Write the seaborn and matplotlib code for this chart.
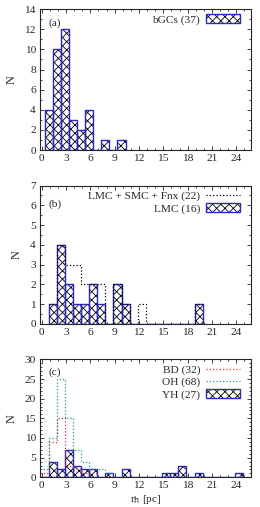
import numpy as np
import pandas as pd
import matplotlib
matplotlib.use('Agg')
import matplotlib.pyplot as plt
import seaborn as sns
from matplotlib.patches import Patch
from matplotlib.lines import Line2D
from matplotlib.ticker import MultipleLocator

# histogram counts, unit-width bins
a_start = 0.35
bgc = [4, 10, 12, 3, 2, 4, 0, 1, 0, 1]

b_start = 0.85
lmc = [1, 4, 2, 1, 1, 2, 1, 0, 2, 1, 0, 0, 0, 0, 0, 0, 0, 0, 1]
lmc_all = [1, 4, 3, 3, 2, 2, 2, 0, 2, 1, 0, 1, 0, 0, 0, 0, 0, 0, 1]

c_start = -0.15
bd = [1, 9, 15, 3, 2, 1, 1]
oh = [2, 10, 25, 15, 7, 4, 2, 2, 1]
yh = [0, 4, 2, 7, 3, 2, 2, 0, 1, 0, 2, 0, 0, 0, 0, 1, 1, 3, 0, 1, 0, 0, 0, 0, 1]

sns.set_style('ticks')
plt.rcParams['font.family'] = ['Liberation Serif', 'DejaVu Serif']
plt.rcParams['hatch.linewidth'] = 0.6
plt.rcParams['xtick.direction'] = 'in'
plt.rcParams['ytick.direction'] = 'in'
fs = 8.2
blue = '#2828c8'
leg_kw = dict(loc='upper right', bbox_to_anchor=(0.972, 1.0), frameon=False,
              markerfirst=False, fontsize=fs, handlelength=3.0, handleheight=0.8,
              handletextpad=0.5, borderaxespad=0.15, borderpad=0.3, labelspacing=0.15)


def bins_of(start, counts):
    edges = [start + i for i in range(len(counts) + 1)]
    df = pd.DataFrame({'r': [e + 0.5 for e in edges[:-1]], 'n': [float(c) for c in counts]})
    return df, edges


def hatched(ax, start, counts):
    df, e = bins_of(start, counts)
    sns.histplot(data=df, x='r', weights='n', bins=e, ax=ax, element='bars', fill=True,
                 facecolor='white', edgecolor='black', linewidth=0, hatch='xxxx', alpha=1)
    sns.histplot(data=df, x='r', weights='n', bins=e, ax=ax, element='bars', fill=False,
                 color=blue, edgecolor=blue, linewidth=1.0)


def dotted(ax, start, counts, color):
    df, e = bins_of(start, counts)
    sns.histplot(data=df, x='r', weights='n', bins=e, ax=ax, element='step', fill=False,
                 color=color, linestyle=':', linewidth=0.9)


def bar_handle():
    return (Patch(facecolor='white', edgecolor='black', hatch='xxxx', linewidth=0),
            Patch(facecolor='none', edgecolor=blue, linewidth=1.0))


fig = plt.figure(figsize=(2.6, 5.07), dpi=100)
ax_a = fig.add_axes([0.154, 0.704, 0.811, 0.278])
ax_b = fig.add_axes([0.154, 0.361, 0.811, 0.273])
ax_c = fig.add_axes([0.154, 0.0586, 0.811, 0.2325])

# (a)
hatched(ax_a, a_start, bgc)
ax_a.set_ylim(0, 14)
ax_a.yaxis.set_major_locator(MultipleLocator(2))
ax_a.yaxis.set_minor_locator(MultipleLocator(1))
ax_a.legend([bar_handle()], ['bGCs (37)'], **leg_kw)
ax_a.text(0.04, 0.935, '(a)', transform=ax_a.transAxes, fontsize=fs, va='top')

# (b)
dotted(ax_b, b_start, lmc_all, 'black')
hatched(ax_b, b_start, lmc)
ax_b.set_ylim(0, 7)
ax_b.yaxis.set_major_locator(MultipleLocator(1))
ax_b.yaxis.set_minor_locator(MultipleLocator(0.5))
ax_b.legend([Line2D([], [], color='black', ls=':', lw=0.9), bar_handle()],
            ['LMC + SMC + Fnx (22)', 'LMC (16)'], **leg_kw)
ax_b.text(0.04, 0.9, '(b)', transform=ax_b.transAxes, fontsize=fs, va='top')

# (c)
dotted(ax_c, c_start, bd, '#e03030')
dotted(ax_c, c_start, oh, '#20a070')
hatched(ax_c, c_start, yh)
ax_c.set_ylim(0, 30)
ax_c.yaxis.set_major_locator(MultipleLocator(5))
ax_c.yaxis.set_minor_locator(MultipleLocator(1))
ax_c.legend([Line2D([], [], color='#e03030', ls=':', lw=0.9),
             Line2D([], [], color='#20a070', ls=':', lw=0.9), bar_handle()],
            ['BD (32)', 'OH (68)', 'YH (27)'], **leg_kw)
ax_c.text(0.04, 0.93, '(c)', transform=ax_c.transAxes, fontsize=fs, va='top')

for ax in (ax_a, ax_b, ax_c):
    ax.set_xlim(-0.2, 25.8)
    ax.set_xticks(np.arange(0, 25, 3))
    ax.xaxis.set_minor_locator(MultipleLocator(1))
    ax.tick_params(which='both', top=True, right=True, labelsize=fs, pad=3,
                   width=0.6)
    ax.tick_params(which='major', length=3)
    ax.tick_params(which='minor', length=1.5)
    for s in ax.spines.values():
        s.set_linewidth(0.8)
    ax.set_ylabel('N', fontsize=fs + 0.5, labelpad=5)
    ax.set_xlabel('')
ax_c.set_xlabel(r'r$_{\rm h}$ [pc]', fontsize=fs, labelpad=1.5)

fig.savefig('out.png', dpi=100)
